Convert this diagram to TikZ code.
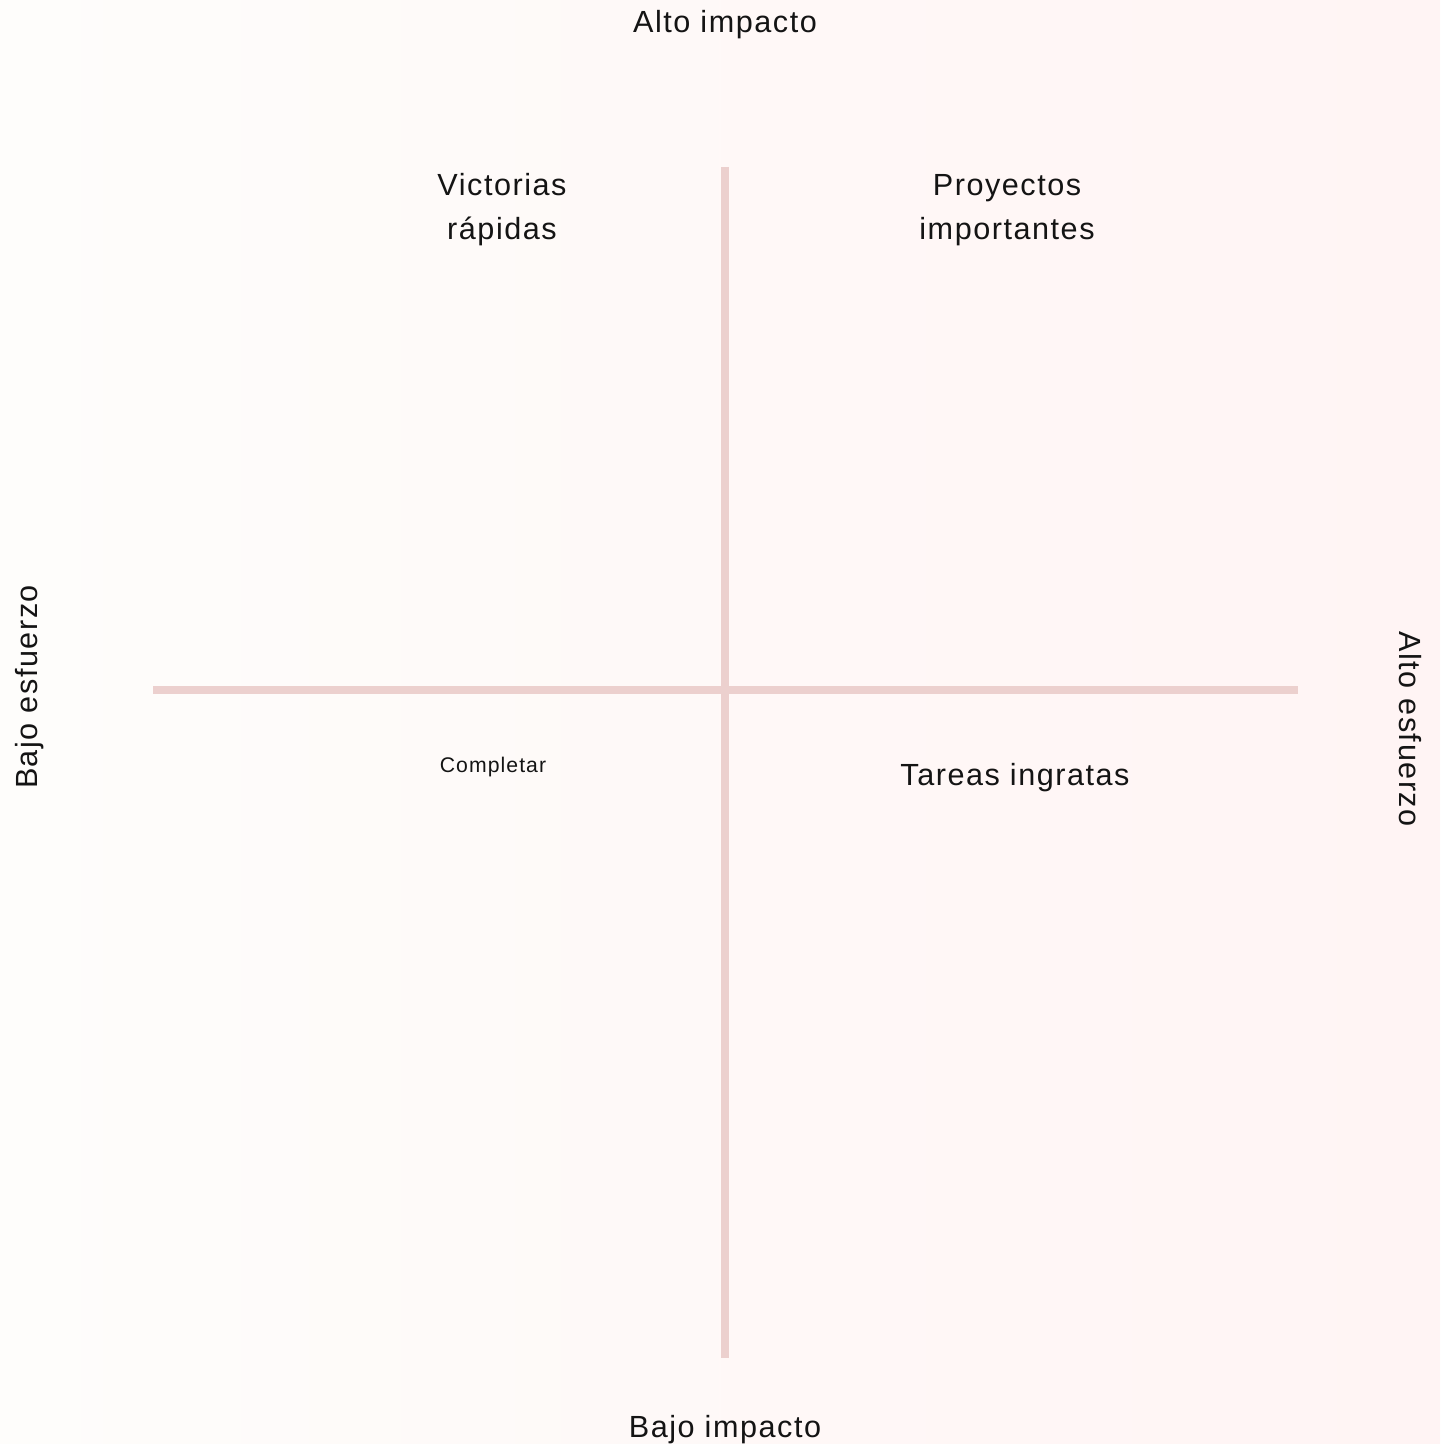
\documentclass[tikz,border=0pt]{standalone}
\usepackage{fontspec}
\setmainfont{Liberation Sans}[LetterSpace=5]
\usetikzlibrary{positioning}
\tikzset{
  label_n/.style = {inner sep=0pt, anchor=base, text=my_text, align=center,
  font=\fontsize{15.3}{22}\selectfont},
  axis_l/.style = {label_n},
  quad_l/.style = {label_n},
  small_l/.style = {label_n, font=\fontsize{10.6}{12}\selectfont}
}
\definecolor{my_axis}{RGB}{236, 208, 206}
\definecolor{my_left}{RGB}{254, 253, 251}
\definecolor{my_right}{RGB}{255, 244, 244}
\definecolor{my_text}{RGB}{20, 20, 20}

\begin{document}
\begin{tikzpicture}[x=0.5pt, y=-0.5pt,
	        axis/.style={draw=my_axis, line width=4pt}]
	        \shade[left color=my_left, right color=my_right] (0,0) rectangle (1440,1444);
	        \useasboundingbox (0,0) rectangle (1440,1444);
	        % ejes
	        \coordinate (top) at (725,167);
	        \coordinate (bottom) at (725,1358);
	        \coordinate (left) at (153,690);
	        \coordinate (right) at (1298,690);
	        \draw[axis] (left) -- (right);
	        \draw[axis] (top) -- (bottom);
	        % etiquetas de los ejes
	        \node [axis_l] (alto-imp) at (725,33) {Alto impacto};
	        \node [axis_l] (bajo-imp) at (725,1437) {Bajo impacto};
	        \node [axis_l, rotate=90] (bajo-esf) at (37,687) {Bajo esfuerzo};
	        \node [axis_l, rotate=-90] (alto-esf) at (1399,729) {Alto esfuerzo};
	        % cuadrantes
	        \node [quad_l] (victorias) at (502,240) {Victorias\\r\'apidas};
	        \node [quad_l] (proyectos) at (1007,240) {Proyectos\\importantes};
	        \node [small_l] (completar) at (493,772) {Completar};
	        \node [quad_l] (tareas) at (1015,785) {Tareas ingratas};
        \end{tikzpicture}
\end{document}
